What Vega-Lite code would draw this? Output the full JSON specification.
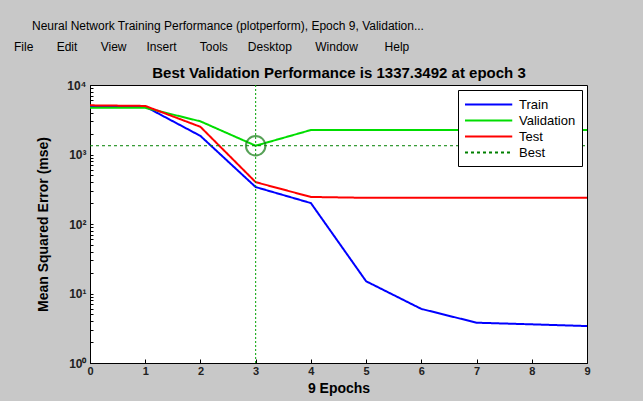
{
  "$schema": "https://vega.github.io/schema/vega-lite/v6.json",
  "autosize": "none",
  "width": 497,
  "height": 278,
  "padding": {"left": 90, "top": 85, "right": 56, "bottom": 38},
  "background": "#c8c8c8",
  "title": {
    "text": "\u2800\u2800Neural Network Training Performance (plotperform), Epoch 9, Validation...",
    "subtitle": "File\u00a0\u00a0\u00a0\u00a0\u00a0\u00a0\u00a0Edit\u00a0\u00a0\u00a0\u00a0\u00a0\u00a0\u00a0View\u00a0\u00a0\u00a0\u00a0\u00a0\u00a0Insert\u00a0\u00a0\u00a0\u00a0\u00a0\u00a0\u00a0Tools\u00a0\u00a0\u00a0\u00a0\u00a0\u00a0Desktop\u00a0\u00a0\u00a0\u00a0\u00a0\u00a0\u00a0Window\u00a0\u00a0\u00a0\u00a0\u00a0\u00a0\u00a0\u00a0Help",
    "anchor": "start",
    "frame": "group",
    "dx": -76,
    "offset": 11,
    "font": "Liberation Sans",
    "fontSize": 12,
    "fontWeight": "normal",
    "color": "#000000",
    "subtitleFont": "Liberation Sans",
    "subtitleFontSize": 12,
    "subtitleColor": "#000000",
    "subtitlePadding": 9
  },
  "datasets": {
    "perf": [
      {"epoch": 0, "series": "Train", "mse": 5000},
      {"epoch": 1, "series": "Train", "mse": 4900},
      {"epoch": 2, "series": "Train", "mse": 1850},
      {"epoch": 3, "series": "Train", "mse": 340},
      {"epoch": 4, "series": "Train", "mse": 200},
      {"epoch": 5, "series": "Train", "mse": 15},
      {"epoch": 6, "series": "Train", "mse": 6},
      {"epoch": 7, "series": "Train", "mse": 3.8},
      {"epoch": 8, "series": "Train", "mse": 3.6},
      {"epoch": 9, "series": "Train", "mse": 3.4},
      {"epoch": 0, "series": "Validation", "mse": 4700},
      {"epoch": 1, "series": "Validation", "mse": 4700},
      {"epoch": 2, "series": "Validation", "mse": 3000},
      {"epoch": 3, "series": "Validation", "mse": 1337.3492},
      {"epoch": 4, "series": "Validation", "mse": 2250},
      {"epoch": 5, "series": "Validation", "mse": 2250},
      {"epoch": 6, "series": "Validation", "mse": 2250},
      {"epoch": 7, "series": "Validation", "mse": 2250},
      {"epoch": 8, "series": "Validation", "mse": 2250},
      {"epoch": 9, "series": "Validation", "mse": 2250},
      {"epoch": 0, "series": "Test", "mse": 5100},
      {"epoch": 1, "series": "Test", "mse": 5000},
      {"epoch": 2, "series": "Test", "mse": 2500},
      {"epoch": 3, "series": "Test", "mse": 400},
      {"epoch": 4, "series": "Test", "mse": 245},
      {"epoch": 5, "series": "Test", "mse": 238},
      {"epoch": 6, "series": "Test", "mse": 238},
      {"epoch": 7, "series": "Test", "mse": 238},
      {"epoch": 8, "series": "Test", "mse": 238},
      {"epoch": 9, "series": "Test", "mse": 238},
      {"epoch": 0, "series": "Best", "mse": 1337.3492},
      {"epoch": 9, "series": "Best", "mse": 1337.3492}
    ],
    "best": [{"epoch": 3, "mse": 1337.3492}]
  },
  "layer": [
    {
      "data": {"name": "perf"},
      "mark": {"type": "line", "strokeWidth": 2},
      "encoding": {
        "x": {
          "field": "epoch", "type": "quantitative",
          "scale": {"domain": [0, 9], "nice": false, "zero": false},
          "axis": {
            "title": "9 Epochs", "values": [0,1,2,3,4,5,6,7,8,9],
            "titleFont": "Liberation Sans", "titleFontSize": 14, "titleFontWeight": "bold", "titleColor": "#000000", "titlePadding": 5,
            "labelFont": "Liberation Sans", "labelFontSize": 11, "labelFontWeight": "bold", "labelColor": "#222222",
            "tickSize": -4, "tickColor": "#000000", "domainColor": "#000000", "grid": false, "labelPadding": 6, "labelFlush": false
          }
        },
        "y": {
          "field": "mse", "type": "quantitative",
          "scale": {"type": "log", "domain": [1, 10000], "nice": false},
          "axis": {
            "title": "Mean Squared Error  (mse)",
            "values": [1,2,3,4,5,6,7,8,9,10,20,30,40,50,60,70,80,90,100,200,300,400,500,600,700,800,900,1000,2000,3000,4000,5000,6000,7000,8000,9000,10000],
            "labelExpr": "datum.value == 1 ? '10⁰' : datum.value == 10 ? '10¹' : datum.value == 100 ? '10²' : datum.value == 1000 ? '10³' : datum.value == 10000 ? '10⁴' : ''",
            "titleFont": "Liberation Sans", "titleFontSize": 14, "titleFontWeight": "bold", "titleColor": "#000000", "titlePadding": 16,
            "labelFont": "Liberation Sans", "labelFontSize": 12, "labelFontWeight": "bold", "labelColor": "#222222",
            "tickSize": -3, "tickColor": "#000000", "domainColor": "#000000", "grid": false, "labelPadding": 7
          }
        },
        "color": {
          "field": "series", "type": "nominal",
          "scale": {"domain": ["Train", "Validation", "Test", "Best"], "range": ["#0000ff", "#00dd00", "#ff0000", "#008000"]},
          "legend": {
            "title": null, "orient": "top-right", "offset": 5,
            "fillColor": "#ffffff", "strokeColor": "#000000", "padding": 6,
            "symbolType": "M-1,0H5.3", "symbolSize": 225, "symbolStrokeWidth": 2,
            "labelFont": "Liberation Sans", "labelFontSize": 13, "labelColor": "#000000", "rowPadding": 0, "labelOffset": 38
          }
        },
        "strokeDash": {
          "field": "series", "type": "nominal",
          "scale": {"domain": ["Train", "Validation", "Test", "Best"], "range": [[1, 0], [1, 0], [1, 0], [3, 3]]},
          "legend": null
        },
        "size": {"condition": {"test": "datum.series == 'Best'", "value": 1}, "value": 2}
      }
    },
    {
      "data": {"name": "best"},
      "mark": {"type": "rule", "stroke": "#00a000", "color": "#00a000", "strokeDash": [2, 2], "strokeWidth": 1},
      "encoding": {
        "x": {
          "field": "epoch", "type": "quantitative",
          "axis": {
            "orient": "top", "title": "Best Validation Performance is 1337.3492 at epoch 3",
            "titleFont": "Liberation Sans", "titleFontSize": 15, "titleFontWeight": "bold", "titleColor": "#000000", "titlePadding": 5,
            "labels": false, "ticks": false, "domain": false, "grid": false
          }
        }
      }
    },
    {
      "data": {"name": "best"},
      "mark": {"type": "point", "shape": "circle", "size": 380, "filled": false, "stroke": "#107a10", "strokeWidth": 2},
      "encoding": {
        "x": {"field": "epoch", "type": "quantitative", "axis": null},
        "y": {"field": "mse", "type": "quantitative"}
      }
    }
  ],
  "resolve": {"axis": {"x": "independent"}},
  "config": {
    "view": {"stroke": "#000000", "strokeWidth": 1, "fill": "#ffffff"}
  }
}
